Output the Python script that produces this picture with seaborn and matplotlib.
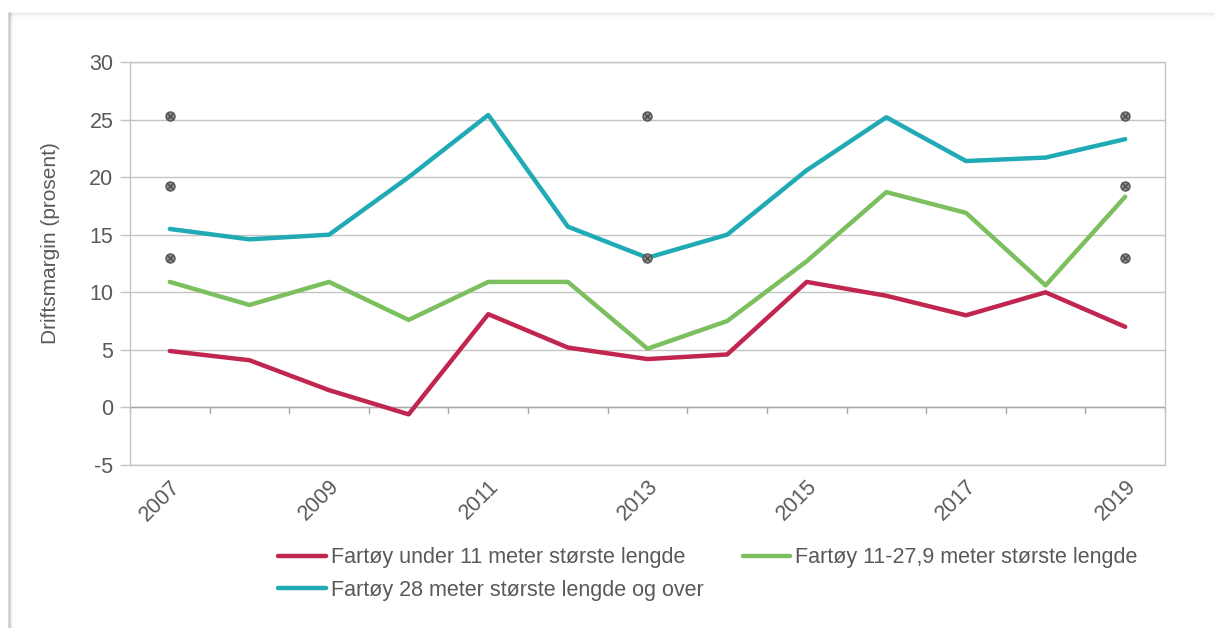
import numpy as np
import pandas as pd
import matplotlib
matplotlib.use("Agg")
import matplotlib.pyplot as plt
from matplotlib.lines import Line2D
import seaborn as sns

# Driftsmargin per fartøygruppe, 2007-2019
years = list(range(2007, 2020))
under_11 = [4.9, 4.1, 1.5, -0.6, 8.1, 5.2, 4.2, 4.6, 10.9, 9.7, 8.0, 10.0, 7.0]
m11_279 = [10.9, 8.9, 10.9, 7.6, 10.9, 10.9, 5.1, 7.5, 12.7, 18.7, 16.9, 10.6, 18.3]
over_28 = [15.5, 14.6, 15.0, 20.0, 25.4, 15.7, 13.0, 15.0, 20.6, 25.2, 21.4, 21.7, 23.3]

series_names = [
    "Fartøy under 11 meter største lengde",
    "Fartøy 11-27,9 meter største lengde",
    "Fartøy 28 meter største lengde og over",
]
colors = ["#C0264F", "#7BBF5E", "#1FAAB6"]
y_ticks = [-5, 0, 5, 10, 15, 20, 25, 30]
x_labels = [2007, 2009, 2011, 2013, 2015, 2017, 2019]

df = pd.DataFrame({"År": years, series_names[0]: under_11,
                   series_names[1]: m11_279, series_names[2]: over_28})
long = df.melt(id_vars="År", var_name="Serie", value_name="Driftsmargin")

sns.set_theme(style="white")
plt.rcParams["font.family"] = ["Liberation Sans", "DejaVu Sans"]

text_c = "#595959"
fig = plt.figure(figsize=(12.15, 6.28), dpi=100)
ax = fig.add_axes([130 / 1215, 1 - 465 / 628, 1035 / 1215, 403 / 628])

sns.lineplot(data=long, x="År", y="Driftsmargin", hue="Serie",
             hue_order=series_names, palette=colors, linewidth=3.2,
             legend=False, ax=ax, zorder=3)

grid_c = "#C4C4C4"
ax.set_xlim(2006.5, 2019.5)
ax.set_ylim(-5, 30)
ax.set_yticks(y_ticks)
ax.set_yticklabels([str(v) for v in y_ticks], fontsize=15.5, color=text_c)
for v in y_ticks:
    ax.axhline(v, color=grid_c, linewidth=1.0, zorder=1)
for s in ax.spines.values():
    s.set_color(grid_c)
    s.set_linewidth(1.0)
ax.tick_params(axis="y", length=7, width=1.0, color=grid_c, pad=5, left=True)

# category axis drawn at zero, with tick marks between years
ax.axhline(0, color="#A6A6A6", linewidth=1.0, zorder=2)
for b in np.arange(2006.5, 2019.6, 1.0):
    ax.plot([b, b], [0, -0.45], color="#A6A6A6", linewidth=1.0,
            clip_on=False, zorder=2)
ax.set_xticks(x_labels)
ax.set_xticklabels([str(v) for v in x_labels], fontsize=15.5, color=text_c,
                   rotation=45, ha="right", rotation_mode="anchor")
ax.tick_params(axis="x", length=0, pad=8)
ax.set_xlabel("")
ax.set_ylabel("Driftsmargin (prosent)", fontsize=15, color=text_c)
ax.yaxis.set_label_coords(-0.068, 0.55)

# selection handles around the chart title area
hx = [years[0], years[6], years[-1]]
hy = [13.0, 19.2, 25.3]
for xi in hx:
    for yi in hy:
        if xi == years[6] and yi == hy[1]:
            continue
        ax.plot(xi, yi, marker="o", markersize=6.5, markerfacecolor="#8C8C8C",
                markeredgecolor="#555555", markeredgewidth=1.0, zorder=5)
        ax.plot(xi, yi, marker="x", markersize=4, color="#444444",
                markeredgewidth=0.8, zorder=6)

# legend: two rows, red & green on the first, teal on the second
handles = [Line2D([0], [0], color=colors[i], linewidth=3.2) for i in (0, 2, 1)]
labels = [series_names[i] for i in (0, 2, 1)]
fig.legend(handles, labels, loc="center", bbox_to_anchor=(708 / 1215, 1 - 574 / 628),
           ncol=2, frameon=False, fontsize=15.5, labelcolor=text_c,
           handlelength=2.2, handletextpad=0.25, columnspacing=1.8,
           labelspacing=0.55, borderpad=0.2)

# chart frame edge with a soft shadow
for i, a in enumerate([0.35, 0.22, 0.12, 0.06]):
    fig.add_artist(Line2D([(9 + i) / 1215] * 2, [0, 1 - 13 / 628],
                          color="#7F7F7F", alpha=a, linewidth=1.2,
                          transform=fig.transFigure))
    fig.add_artist(Line2D([9 / 1215, 1], [1 - (13 + i) / 628] * 2,
                          color="#9F9F9F", alpha=a * 0.5, linewidth=1.0,
                          transform=fig.transFigure))

fig.savefig("out.png", dpi=100)
